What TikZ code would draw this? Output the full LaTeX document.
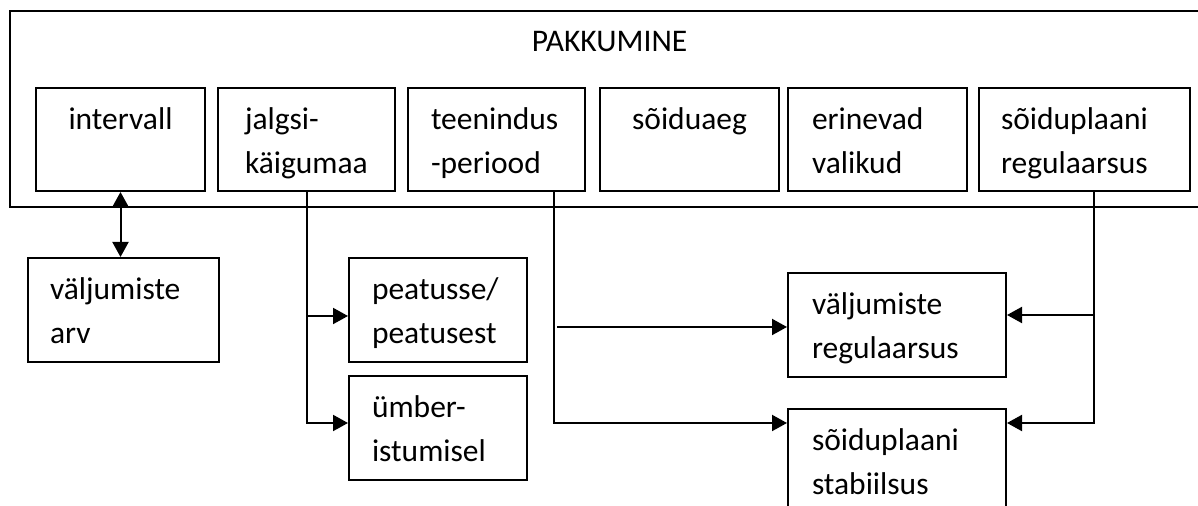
\documentclass[tikz,border=0pt]{standalone}
\usepackage{fontspec}
\setmainfont{Carlito}
\usetikzlibrary{arrows.meta, positioning}
\hyphenpenalty=10000
\exhyphenpenalty=10000
\hbadness=10000
\newcommand{\ls}{\rule[-5pt]{0pt}{22pt}}

\begin{document}
\begin{tikzpicture}[
    x=0.5pt, y=-0.5pt,
    every node/.style={font=\fontsize{15.75pt}{22pt}\selectfont},
    box/.style={rectangle, draw, line width=1pt, anchor=north west,
                inner ysep=0pt, align=left},
    top/.style={box, minimum height=51.5pt},
    low/.style={box, minimum height=52pt},
    arr/.style={-{Triangle[length=7.5pt, width=8pt]}, line width=1pt},
    dbl/.style={{Triangle[length=7.5pt, width=8pt]}-{Triangle[length=7.5pt, width=8pt]}, line width=1pt}
]
    \useasboundingbox (0,0) rectangle (1198,506);
    \clip (0,0) rectangle (1198,506);

    % outer frame
    \node[rectangle, draw, line width=1pt, anchor=north west, inner sep=0pt,
          minimum width=600.5pt, minimum height=98pt] (pakk) at (9,10) {};
    \node[anchor=base] (title) at (609.5,52) {PAKKUMINE};

    % top row
    \node[top, align=center, minimum width=84.5pt, inner xsep=5pt, text width=74.5pt]
        (intervall) at (35,87) {\ls intervall\\\ls};
    \node[top, minimum width=88.5pt, inner xsep=13.5pt, text width=61.5pt]
        (jalgsi) at (217,87) {\ls jalgsi-\\käigumaa\ls};
    \node[top, minimum width=88.5pt, inner xsep=11.5pt, text width=65.5pt]
        (teenindus) at (407,87) {\ls teenindus\\-periood\ls};
    \node[top, align=center, minimum width=89.5pt, inner xsep=5pt, text width=79.5pt]
        (soiduaeg) at (599,87) {\ls sõiduaeg\\\ls};
    \node[top, minimum width=89.5pt, inner xsep=12pt, text width=65.5pt]
        (valikud) at (787,87) {\ls erinevad\\valikud\ls};
    \node[top, minimum width=105.5pt, inner xsep=11pt, text width=83.5pt]
        (regul) at (978,87) {\ls sõiduplaani\\regulaarsus\ls};

    % lower boxes
    \node[low, minimum width=95.5pt, inner xsep=11pt, text width=73.5pt]
        (varv) at (27,257) {\ls väljumiste\\arv\ls};
    \node[low, minimum width=89pt, inner xsep=11.5pt, text width=66pt]
        (peatus) at (348,257) {\ls peatusse/\\peatusest\ls};
    \node[low, minimum width=89pt, inner xsep=11.5pt, text width=66pt]
        (ymber) at (348,375) {\ls ümber-\\istumisel\ls};
    \node[low, minimum width=109pt, inner xsep=12pt, text width=85pt]
        (vreg) at (787,272) {\ls väljumiste\\regulaarsus\ls};
    \node[low, minimum width=109pt, inner xsep=12pt, text width=85pt]
        (stab) at (787,408) {\ls sõiduplaani\\stabiilsus\ls};

    % connectors
    \draw[dbl] (intervall.south) -- (intervall.south |- varv.north);

    \coordinate (pin) at ([yshift=-3pt]peatus.west);
    \draw[arr] (jalgsi.south) |- ([yshift=2.5pt]ymber.west);
    \draw[arr] (jalgsi.south |- pin) -- (pin);

    \coordinate (tout) at ([xshift=-16pt]teenindus.south east);
    \coordinate (sin) at ([yshift=-7.5pt]stab.north west);
    \draw[arr] (tout) |- (sin);
    \coordinate (vfree) at (557,327);
    \draw[arr] (vfree) -- (vfree -| vreg.west);

    \coordinate (rout) at ([xshift=-48.5pt]regul.south east);
    \coordinate (sout) at ([yshift=-7.5pt]stab.north east);
    \coordinate (vin) at ([yshift=5pt]vreg.east);
    \draw[arr] (rout) |- (sout);
    \draw[arr] (rout |- vin) -- (vin);
\end{tikzpicture}
\end{document}
